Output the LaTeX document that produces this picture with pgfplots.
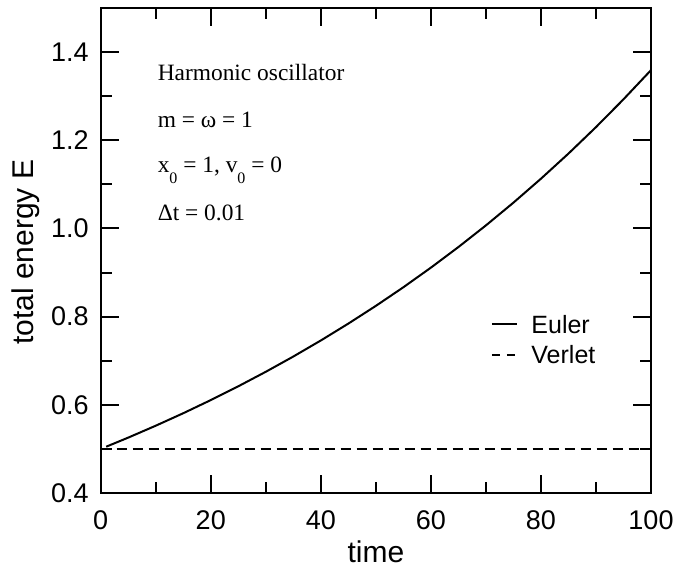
\documentclass[border=0pt]{standalone}
\usepackage{fontspec}
\setmainfont{Liberation Serif}
\newfontfamily\arial{Liberation Sans}
\usepackage{pgfplots}
\pgfplotsset{compat=1.18}

\pgfplotstableread{
t E
1 0.5050
5 0.5256
10 0.5526
15 0.5809
20 0.6107
25 0.6420
30 0.6749
35 0.7095
40 0.7459
45 0.7842
50 0.8244
55 0.8666
60 0.9111
65 0.9578
70 1.0069
75 1.0585
80 1.1128
85 1.1698
90 1.2298
95 1.2929
100 1.3591
}\euler

\newcommand{\sz}[1]{\fontsize{#1}{1.2\dimexpr#1\relax}\selectfont}
\newcommand{\sub}[1]{\raisebox{-5.5bp}{\fontsize{8bp}{8bp}\selectfont #1}}

\begin{document}
\begin{tikzpicture}
\begin{axis}[
    scale only axis,
    width=275.15bp, height=242.5bp,
    xmin=0, xmax=100, ymin=0.4, ymax=1.5,
    xtick={0,20,...,100},
    ytick={0.4,0.6,...,1.41},
    minor tick num=1,
    tick align=inside,
    major tick length=9bp, minor tick length=5.5bp,
    axis line style={line width=1bp},
    every tick/.style={black, line width=1bp},
    /pgf/number format/assume math mode=true,
    yticklabel style={/pgf/number format/.cd, fixed, precision=1, zerofill},
    tick label style={font=\arial\sz{13.5bp}, inner sep=0pt},
    xticklabel shift=8.8bp,
    yticklabel shift=5.8bp,
    xlabel={time},
    ylabel={total energy E},
    xlabel style={font=\arial\sz{15bp}, at={(axis description cs:0.5,-0.1423)}, anchor=base, inner sep=0pt},
    ylabel style={font=\arial\sz{15bp}, at={(axis description cs:-0.1228,0.496)}, anchor=base, inner sep=0pt},
    clip=false,
]
\addplot[black, line width=1bp] table[x=t, y=E] {\euler};
\addplot[black, line width=1bp, dash pattern=on 5bp off 3bp] coordinates {(0,0.5) (100,0.5)};

% annotations
\node[anchor=base west, inner sep=0pt, font=\sz{11.7bp}] at (axis cs:10.3,1.335) {Harmonic oscillator};
\node[anchor=base west, inner sep=0pt, font=\sz{11.7bp}] at (axis cs:10.3,1.230) {m = ω = 1};
\node[anchor=base west, inner sep=0pt, font=\sz{11.7bp}] at (axis cs:10.3,1.126) {x\sub{0} = 1, v\sub{0} = 0};
\node[anchor=base west, inner sep=0pt, font=\sz{11.7bp}] at (axis cs:10.3,1.017) {Δt = 0.01};

% legend
\draw[black, line width=1bp] (axis cs:71.1,0.783) -- (axis cs:75.7,0.783);
\draw[black, line width=1bp, dash pattern=on 4bp off 3.5bp] (axis cs:71.1,0.713) -- (axis cs:75.9,0.713);
\node[anchor=west, font=\arial\sz{12.5bp}, inner sep=0pt] at (axis cs:78.2,0.783) {Euler};
\node[anchor=west, font=\arial\sz{12.5bp}, inner sep=0pt] at (axis cs:78.2,0.713) {Verlet};
\end{axis}
\path (current axis.south west) ++(-50.35bp,-37.5bp) rectangle ++(337bp,284bp);
\end{tikzpicture}
\end{document}
